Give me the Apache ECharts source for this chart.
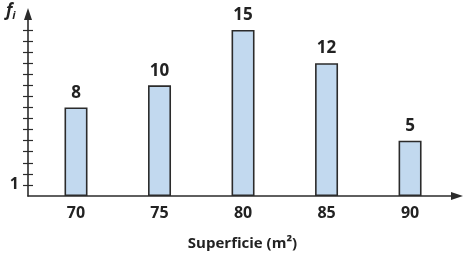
<!DOCTYPE html>
<html><head><meta charset="utf-8">
<script src="https://cdn.jsdelivr.net/npm/echarts@6/dist/echarts.min.js"></script>
<style>html,body{margin:0;padding:0;background:#fff}#c{width:464px;height:256px}</style>
</head><body><div id="c"></div>
<script>
const categories = [70, 75, 80, 85, 90];
const frequencies = [8, 10, 15, 12, 5];
const yTickValues = [1,2,3,4,5,6,7,8,9,10,11,12,13,14,15];
const yLabelValues = [1];
const xAxisName = 'Superficie (m²)';

const FONT = '"Open Sans", sans-serif';
const chart = echarts.init(document.getElementById('c'), null, {renderer:'canvas'});
const data = categories.map((c,i)=>[c, frequencies[i]]);
const yBase = {
  type:'value', min:0, max:16.44, position:'left',
  splitLine:{show:false},
  axisLine:{show:true, lineStyle:{color:'#2b2b2b', width:1.6}, symbol:['none','triangle'], symbolSize:[8,12]},
};
chart.setOption({
  animation:false,
  grid:{left:28, right:7, top:14, bottom:60, containLabel:false},
  xAxis:{
    type:'value', min:67.126, max:92.81,
    splitLine:{show:false},
    axisLine:{show:true, onZero:false, lineStyle:{color:'#2b2b2b', width:1.6}, symbol:['none','triangle'], symbolSize:[8,12]},
    axisTick:{show:false},
    axisLabel:{show:true, customValues:categories, color:'#222', fontFamily:FONT, fontWeight:'bold', fontSize:16, margin:9},
    name:xAxisName, nameLocation:'middle', nameGap:40,
    nameTextStyle:{color:'#222', fontFamily:FONT, fontWeight:'bold', fontSize:15}
  },
  yAxis:[
    Object.assign({}, yBase, {
      axisTick:{show:true, customValues:yTickValues, length:5, inside:false, lineStyle:{color:'#2b2b2b', width:1.2}},
      axisLabel:{show:true, customValues:yLabelValues, color:'#222', fontFamily:FONT, fontWeight:'bold', fontSize:16, margin:9}
    }),
    Object.assign({}, yBase, {
      axisLine:{show:false},
      axisTick:{show:true, customValues:yTickValues, length:5, inside:true, lineStyle:{color:'#2b2b2b', width:1.2}},
      axisLabel:{show:false}
    })
  ],
  series:[{
    type:'bar', data:data, barWidth:23, yAxisIndex:0,
    itemStyle:{color:'#c2d9ef', borderColor:'#2b2b2b', borderWidth:1.6},
    label:{show:true, position:'top', distance:6, color:'#222', fontFamily:FONT, fontWeight:'bold', fontSize:17}
  }],
  graphic:[{
    type:'text', left:6, top:3,
    style:{
      rich:{f:{fontStyle:'italic', fontWeight:'bold', fontSize:17, fontFamily:FONT, fill:'#222'},
            i:{fontStyle:'italic', fontWeight:'bold', fontSize:11, fontFamily:FONT, fill:'#222', padding:[9,0,0,0]}},
      text:'{f|f}{i|i}'
    }
  }]
});
</script></body></html>
